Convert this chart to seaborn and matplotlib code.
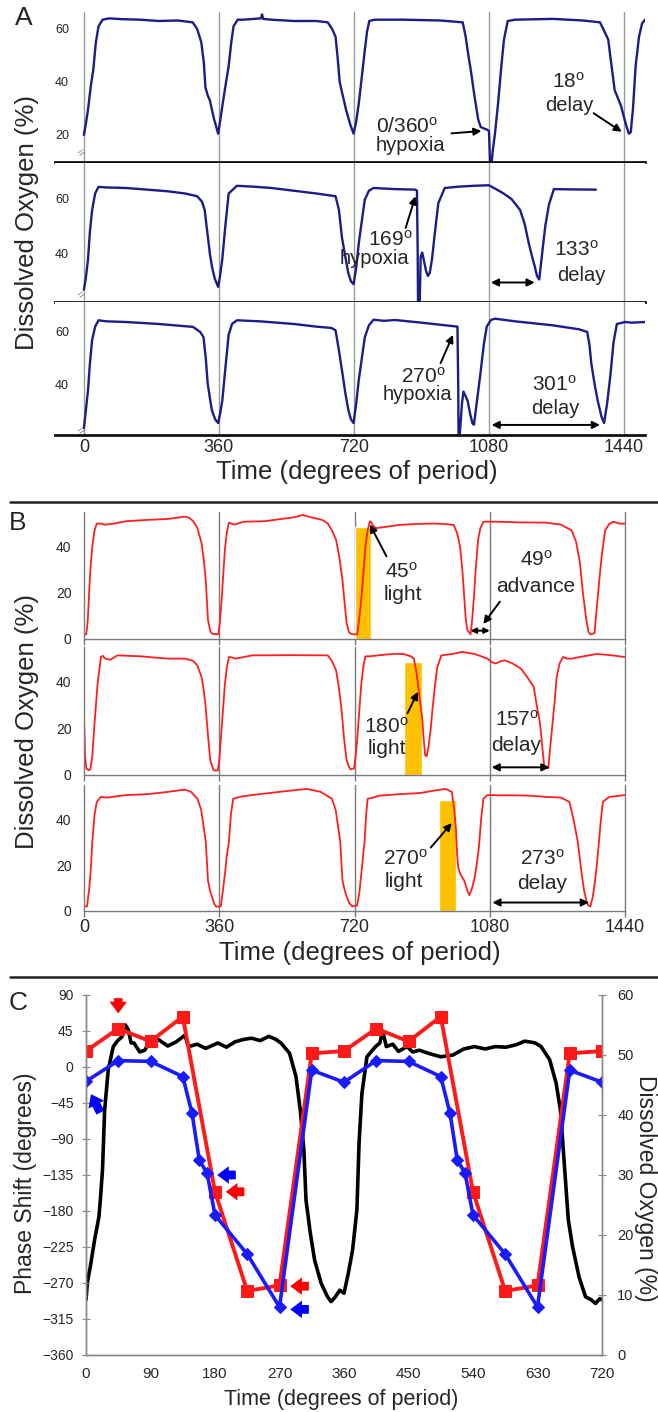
import numpy as np
import pandas as pd
import matplotlib
matplotlib.use('Agg')
import matplotlib.pyplot as plt
import seaborn as sns
from matplotlib.lines import Line2D

# ---------------- data ----------------
cycle_ticks = [0, 360, 720, 1080, 1440]

# panel A: dissolved oxygen (%) vs time (deg), hypoxia pulses
a1 = [(0, 20), (5, 24), (11, 29.5), (18, 38), (25, 44.6), (32, 55), (39, 61), (50, 63.5), (67, 64),
      (100, 63.7), (150, 63.5), (200, 63), (250, 63.2), (290, 62.5), (302, 60), (313, 55), (320, 47),
      (324, 38), (330, 35), (336, 33), (347, 26), (358, 20.5), (363, 25), (369, 30.8), (378, 39),
      (386, 46), (393, 55), (399, 61), (410, 63.5), (425, 63.5), (472, 64), (475, 65.5), (478, 63.8),
      (500, 63.5), (560, 63), (620, 63), (650, 62.5), (662, 60), (671, 57), (676, 50), (682, 40),
      (690, 35), (699, 29.5), (710, 24), (719, 20.5), (726, 25), (733, 32), (741, 42), (749, 52),
      (755, 59), (761, 63), (775, 63.5), (850, 63.5), (950, 63.2), (1010, 62.5), (1018, 57),
      (1023, 52), (1032, 44), (1040, 36), (1051, 26), (1058, 23), (1066, 22.5), (1075, 22),
      (1080, 21.5), (1083, 9), (1087, 9), (1090, 14), (1096, 20.5), (1105, 33), (1113, 46),
      (1120, 56), (1130, 63), (1150, 63.5), (1250, 63.8), (1330, 63.2), (1376, 62.5), (1388, 59),
      (1398, 56), (1405, 48), (1415, 37), (1432, 31), (1445, 24), (1453, 20.5), (1458, 21),
      (1464, 30), (1471, 46), (1480, 57), (1488, 62), (1496, 63.5)]
a2 = [(0, 27), (5, 31), (11, 38), (16, 48), (22, 56), (30, 62), (39, 64.4), (60, 64.2), (112, 64),
      (160, 63.5), (224, 62.8), (270, 62), (302, 61), (315, 59), (322, 56), (329, 48), (336, 40),
      (342, 35), (349, 31), (358, 28), (363, 32), (369, 38), (377, 50), (386, 62), (408, 64.8),
      (450, 64.5), (500, 64), (560, 63), (620, 62), (671, 61), (680, 56), (688, 46), (697, 39),
      (705, 33), (712, 30), (719, 29), (726, 35), (733, 44), (741, 52), (749, 59.8), (760, 63),
      (772, 64), (830, 63.6), (884, 63.4), (888, 63), (890, 40), (891, 20), (895, 20), (898, 39),
      (902, 40.5), (906, 38), (912, 34), (917, 32), (922, 33), (928, 38), (936, 48), (945, 58.5),
      (962, 64), (1000, 64.5), (1040, 64.8), (1080, 65), (1100, 63.5), (1119, 62), (1140, 60),
      (1163, 56), (1175, 51), (1186, 44), (1195, 39), (1202, 35.5), (1208, 32), (1214, 30.7),
      (1220, 38), (1230, 50), (1240, 58), (1253, 63.6), (1300, 63.5), (1365, 63.4)]
a3 = [(0, 23.75), (5, 30), (11, 38), (16, 48), (22, 57), (30, 62), (39, 64.4), (60, 64), (112, 63.75),
      (200, 63), (291, 61.9), (310, 60), (319, 58), (325, 50), (330, 40.6), (336, 35), (341, 30.6),
      (350, 27), (358, 25.6), (363, 29), (369, 34), (377, 46), (386, 59), (395, 63), (408, 64.4),
      (470, 64), (560, 63), (620, 62), (660, 61.5), (671, 60.6), (680, 53), (688, 45.6), (697, 37),
      (705, 30.6), (712, 27), (719, 25.6), (726, 33), (733, 42), (741, 50), (749, 58), (760, 62.5),
      (772, 64.6), (800, 64.2), (830, 64.5), (900, 63.5), (996, 62), (998, 40), (999, 19), (1001, 19),
      (1003, 23), (1008, 33), (1012, 37.5), (1017, 36), (1023, 34), (1030, 29), (1036, 25.5),
      (1040, 25), (1048, 34), (1057, 44), (1066, 55), (1074, 62), (1085, 64.5), (1096, 65),
      (1150, 64), (1250, 62.5), (1320, 61), (1342, 60), (1348, 55), (1353, 48), (1362, 40),
      (1370, 34), (1380, 28), (1387, 25.6), (1395, 33), (1404, 44), (1412, 56), (1421, 63),
      (1443, 63.75), (1460, 63.5), (1496, 63.75)]

# panel B: dissolved oxygen (%) vs time (deg), light pulses
b1 = [(0, 2), (6, 2), (10, 8), (13, 18), (17, 30), (22, 40), (28, 47), (34, 50), (45, 50), (56, 49.5),
      (80, 50), (112, 51), (160, 51.5), (224, 52), (268, 53), (280, 52.5), (291, 51), (302, 48),
      (313, 41.4), (319, 34), (324, 25.6), (330, 8.3), (336, 3.5), (341, 2.3), (358, 2), (362, 8),
      (367, 18.4), (371, 29), (375, 38.6), (380, 46), (386, 50.4), (400, 49.5), (425, 50.8),
      (480, 51), (559, 52.7), (582, 53.7), (610, 52.5), (635, 51.5), (649, 50), (660, 47), (671, 43),
      (680, 35), (688, 25.6), (694, 15), (699, 7), (705, 3), (710, 2.3), (719, 2), (727, 2), (732, 8),
      (738, 17), (744, 29), (749, 40), (755, 47), (761, 51), (765, 50.5), (770, 49), (777, 48),
      (800, 48.5), (839, 49.4), (880, 49.8), (928, 50), (960, 49.8), (984, 49.4), (993, 46),
      (1001, 40), (1007, 30), (1012, 18.4), (1016, 9), (1020, 4), (1029, 2), (1033, 8), (1038, 18.4),
      (1043, 31), (1049, 43), (1055, 48), (1063, 50.8), (1100, 50.8), (1160, 50.5), (1230, 50.4),
      (1270, 49.5), (1298, 47), (1310, 42), (1320, 33), (1328, 20), (1337, 8.3), (1343, 3),
      (1348, 2), (1355, 2.3), (1359, 2.6), (1364, 12), (1370, 22.7), (1378, 36), (1387, 47),
      (1398, 49.8), (1409, 50.8), (1425, 50), (1440, 50)]
b2 = [(0, 25), (3, 8), (6, 3), (12, 2), (17, 2.5), (22, 8), (28, 22), (36, 39), (45, 50.7), (50, 51.2),
      (56, 50), (70, 49.5), (89, 51.4), (150, 51), (224, 50), (270, 50), (291, 49), (302, 47),
      (313, 42), (319, 36), (324, 29), (330, 17), (336, 6.4), (345, 2), (356, 1.9), (360, 6),
      (364, 15), (370, 28), (375, 39), (380, 46), (386, 50.7), (395, 50.5), (403, 50), (420, 50.5),
      (447, 51.4), (550, 51.5), (649, 51.4), (660, 49), (671, 45), (678, 38), (685, 29), (692, 16),
      (699, 6.4), (705, 3.5), (710, 2.4), (719, 2.9), (723, 8), (727, 15), (733, 28), (738, 39),
      (744, 47), (749, 51), (760, 51), (783, 51.4), (820, 52), (850, 52), (870, 51), (878, 50),
      (884, 45), (889, 39), (895, 31), (900, 25), (904, 16), (908, 8.6), (912, 8), (917, 12),
      (923, 20), (928, 29), (934, 38), (940, 46), (951, 51.4), (980, 52), (1007, 52.9), (1040, 52),
      (1074, 50), (1085, 48.5), (1096, 47.9), (1108, 48.8), (1119, 49.3), (1140, 48), (1163, 45.7),
      (1180, 42), (1197, 37.9), (1205, 30), (1214, 22), (1220, 12), (1225, 3.6), (1236, 2.9),
      (1241, 12), (1247, 22), (1253, 32), (1258, 42), (1266, 48), (1275, 50.7), (1286, 50),
      (1298, 50), (1330, 51), (1365, 52), (1400, 51.5), (1440, 50.7)]
b3 = [(0, 2), (8, 2), (14, 10), (18, 18), (22, 30), (28, 42), (34, 47.6), (45, 49.8), (60, 49.5),
      (112, 50.6), (170, 51), (224, 52), (268, 53), (285, 52), (302, 49), (312, 44), (319, 36),
      (324, 30.5), (330, 13.3), (336, 8.5), (341, 6), (347, 3), (352, 1.9), (364, 2), (369, 8),
      (375, 16), (380, 24), (386, 30.5), (391, 42), (397, 49), (420, 50), (447, 50.6), (520, 52),
      (593, 53.3), (630, 52), (660, 49), (670, 44), (677, 36), (682, 30.5), (688, 13.3), (694, 9),
      (699, 6.4), (706, 3.5), (714, 2), (727, 2.4), (733, 8), (738, 16), (744, 26), (747, 30.5),
      (751, 42), (755, 49), (770, 49.5), (783, 50.3), (840, 51), (895, 51.5), (930, 52.5),
      (962, 53.3), (979, 52), (985, 45), (990, 36), (993, 25), (996, 19), (1002, 16), (1012, 13.3),
      (1020, 9), (1026, 6.9), (1033, 10), (1040, 14.7), (1046, 21), (1051, 27.6), (1057, 40),
      (1063, 49), (1074, 50.6), (1110, 50.5), (1150, 50.5), (1190, 50.3), (1230, 49.8), (1270, 49.5),
      (1292, 47.6), (1303, 40), (1314, 30.5), (1325, 16), (1331, 9), (1337, 4.6), (1342, 2.5),
      (1348, 2), (1354, 6), (1359, 11.6), (1365, 20), (1370, 29), (1376, 40), (1381, 47.6),
      (1398, 49.8), (1420, 50.2), (1440, 50.6)]
light_start = [720, 853, 945]
light_width = [45, 47, 45]
light_top = [48.6, 48.6, 48.5]

# panel C: phase response curves + oxygen trace
prc_x_red = [0, 45, 90, 135, 180, 225, 270, 315, 360, 405, 450, 495, 540, 585, 630, 675, 720]
prc_red = [20, 48, 32, 63, -156, -280, -273, 17, 20, 48, 32, 63, -156, -280, -273, 17, 20]
prc_x_blue = [0, 45, 90, 135, 148, 158, 169, 180, 225, 270, 315, 360,
              405, 450, 495, 508, 518, 529, 540, 585, 630, 675, 720]
prc_blue = [-18, 8, 7, -12, -58, -116, -133, -185, -234, -300, -4, -19,
            8, 7, -12, -58, -116, -133, -185, -234, -300, -4, -19]
do_x = [0, 2, 6, 12, 18, 20, 23, 26, 31, 38, 45, 50, 55, 59, 63, 67, 75, 82, 91, 102,
        114, 126, 138, 143, 155, 167, 184, 196, 208, 220, 231, 243, 255, 265, 272, 284, 293, 299, 304, 307,
        313, 319, 328, 337, 342, 348, 354, 360, 366, 372, 378, 381, 385, 392, 404, 410, 414, 419, 428, 436,
        448, 456, 465, 480, 495, 512, 527, 542, 557, 571, 586, 600, 612, 618, 627, 635, 647, 656, 662, 667,
        673, 679, 688, 697, 705, 711, 717, 720]
do_y = [9.2, 12.2, 14.7, 19.2, 23, 25.8, 30.8, 40.8, 47.5, 51.4, 52.5, 53, 55, 54.2, 52, 52, 50.5, 50.8, 52.8, 52.5,
        51.5, 52.2, 53.3, 51.4, 51.8, 51.1, 52, 51.3, 52.2, 52.6, 52.8, 52.4, 53.1, 52.6, 52, 50.3, 46.4, 40.8, 34.2, 25.8,
        20.3, 15.8, 12, 9.7, 8.9, 9.7, 10.8, 10.3, 13.6, 17.5, 24.2, 35.3, 43.6, 49.7, 51.4, 52, 54, 51.4, 51.8, 50.6,
        51.4, 50.5, 50.8, 50.2, 49.7, 50, 51, 51.4, 51, 51.4, 51.3, 51.7, 52.3, 52.2, 52, 51.4, 49.2, 45.3, 40.8, 32.5,
        22.5, 18, 13, 9.7, 9.2, 8.6, 9.4, 9.2]

# ---------------- style ----------------
sns.set_style('white')
plt.rcParams['font.family'] = ['Liberation Sans', 'DejaVu Sans']
plt.rcParams['mathtext.fontset'] = 'custom'
plt.rcParams['mathtext.rm'] = 'Liberation Sans'
plt.rcParams['mathtext.it'] = 'Liberation Sans'

NAVY = '#1c1c8a'
RED = '#ff1f1f'
GRID = '#9a9a9a'
W, H = 658, 1412
fig = plt.figure(figsize=(W / 100, H / 100), dpi=100)


def box(l, t, r, b):
    return [l / W, 1 - b / H, (r - l) / W, (b - t) / H]


def trace(ax, pts, color, lw):
    df = pd.DataFrame(pts, columns=['t', 'o2'])
    sns.lineplot(data=df, x='t', y='o2', ax=ax, color=color, linewidth=lw,
                 estimator=None, sort=False, legend=False)
    ax.set_xlabel('')
    ax.set_ylabel('')


def arrow(ax, xy, xytext, style='-|>', color='black', lw=1.4, ms=11):
    ax.annotate('', xy=xy, xytext=xytext,
                arrowprops=dict(arrowstyle=style, color=color, lw=lw,
                                shrinkA=0, shrinkB=0, mutation_scale=ms))


def deg(n):
    return n + r'$^{\mathrm{o}}$'


# ---------------- panel A ----------------
a_boxes = [(55, 12, 645, 162), (55, 163, 645, 302), (55, 302, 645, 435)]
a_ylims = [(9.8, 66.4), (22.5, 73.1), (21.1, 71.3)]
a_yticks = [[20, 40, 60], [40, 60], [40, 60]]
a_breaks = [13, 25, 22.4]
axA = []
for i, pts in enumerate([a1, a2, a3]):
    ax = fig.add_axes(box(*a_boxes[i]))
    for t in cycle_ticks:
        ax.axvline(t, color=GRID, lw=1, zorder=0)
    trace(ax, pts, NAVY, 1.7)
    ax.set_xlim(-77, 1496)
    ax.set_ylim(*a_ylims[i])
    ax.set_yticks(a_yticks[i])
    ax.tick_params(axis='y', length=0, pad=-10, labelsize=9)
    for s in ['top', 'left', 'right']:
        ax.spines[s].set_visible(False)
    ax.spines['bottom'].set_color('#111111')
    ax.spines['bottom'].set_linewidth(2)
    ax.text(-6, a_breaks[i], '=', rotation=35, color='#888888', fontsize=9,
            ha='center', va='center')
    if i < 2:
        ax.set_xticks([])
    else:
        ax.set_xticks(cycle_ticks)
        ax.tick_params(axis='x', length=0, pad=3, labelsize=13)
    axA.append(ax)

ax = axA[0]
ax.text(861, 23.1, deg('0/360'), fontsize=15, ha='center', va='center')
ax.text(870, 16.2, 'hypoxia', fontsize=14.5, ha='center', va='center')
arrow(ax, (1060, 21.5), (980, 20.6))
ax.text(1292, 40.1, deg('18'), fontsize=15, ha='center', va='center')
ax.text(1294, 31, 'delay', fontsize=14.5, ha='center', va='center')
arrow(ax, (1434, 21.2), (1359, 28.2))

ax = axA[1]
ax.text(817, 45.1, deg('169'), fontsize=15, ha='center', va='center')
ax.text(775, 38.4, 'hypoxia', fontsize=14.5, ha='center', va='center')
arrow(ax, (884, 61), (858, 49.5))
ax.text(1314, 41.5, deg('133'), fontsize=15, ha='center', va='center')
ax.text(1325, 32, 'delay', fontsize=14.5, ha='center', va='center')
arrow(ax, (1202, 29.6), (1085, 29.6), style='<|-|>')

ax = axA[2]
ax.text(906, 43.1, deg('270'), fontsize=15, ha='center', va='center')
ax.text(889, 36.2, 'hypoxia', fontsize=14.5, ha='center', va='center')
arrow(ax, (984, 58.9), (951, 48.2))
ax.text(1253, 40, deg('301'), fontsize=15, ha='center', va='center')
ax.text(1258, 31.2, 'delay', fontsize=14.5, ha='center', va='center')
arrow(ax, (1376, 24.9), (1087, 24.9), style='<|-|>')

# ---------------- panel B ----------------
b_boxes = [(84, 512, 625, 639), (84, 647, 625, 775), (84, 785, 625, 911)]
axB = []
for i, pts in enumerate([b1, b2, b3]):
    ax = fig.add_axes(box(*b_boxes[i]))
    ax.bar(light_start[i], light_top[i], width=light_width[i], align='edge',
           color='#ffc000', zorder=1)
    for t in cycle_ticks[1:-1]:
        ax.axvline(t, color='#7a7a7a', lw=1, zorder=0)
    trace(ax, pts, RED, 1.3)
    ax.set_xlim(0, 1440)
    ax.set_ylim(0, 55)
    ax.set_yticks([0, 20, 40])
    ax.tick_params(axis='y', length=0, pad=9, labelsize=10)
    ax.spines['top'].set_visible(False)
    for s in ['left', 'right', 'bottom']:
        ax.spines[s].set_color('#7a7a7a')
        ax.spines[s].set_linewidth(1)
    ax.set_xticks(cycle_ticks)
    ax.tick_params(axis='x', direction='out', length=4, width=1, color='#7a7a7a',
                   pad=2, labelsize=13, bottom=True)
    if i < 2:
        ax.set_xticklabels([])
    axB.append(ax)

ax = axB[0]
ax.text(845, 29.3, deg('45'), fontsize=15, ha='center', va='center')
ax.text(850, 19.1, 'light', fontsize=15, ha='center', va='center')
arrow(ax, (761, 49.6), (805, 35.8))
ax.text(1203, 34.3, deg('49'), fontsize=15, ha='center', va='center')
ax.text(1203, 22.7, 'advance', fontsize=15, ha='center', va='center')
arrow(ax, (1063, 6.5), (1107, 16.2))
arrow(ax, (1080, 3.6), (1029, 3.6), style='<|-|>', ms=8)

ax = axB[1]
ax.text(805, 20.8, deg('180'), fontsize=15, ha='center', va='center')
ax.text(805, 11.5, 'light', fontsize=15, ha='center', va='center')
arrow(ax, (889, 35.8), (861, 26.5))
ax.text(1152, 23.7, deg('157'), fontsize=15, ha='center', va='center')
ax.text(1150, 12.5, 'delay', fontsize=15, ha='center', va='center')
arrow(ax, (1239, 3.3), (1085, 3.3), style='<|-|>')

ax = axB[2]
ax.text(856, 22.7, deg('270'), fontsize=15, ha='center', va='center')
ax.text(852, 13, 'light', fontsize=15, ha='center', va='center')
arrow(ax, (979, 38.4), (923, 27.7))
ax.text(1219, 22.7, deg('273'), fontsize=15, ha='center', va='center')
ax.text(1219, 11.9, 'delay', fontsize=15, ha='center', va='center')
arrow(ax, (1344, 3.7), (1087, 3.7), style='<|-|>')

# ---------------- panel C ----------------
axC = fig.add_axes(box(86, 995, 602, 1355))
axD = axC.twinx()
sns.lineplot(x=do_x, y=do_y, ax=axD, color='black', linewidth=2.6,
             estimator=None, sort=False)
axD.set_ylim(0, 60)
axD.set_yticks(range(0, 61, 10))
axD.tick_params(axis='y', direction='inout', length=6, color='#888888',
                pad=8, labelsize=10.5)

axC.set_zorder(axD.get_zorder() + 1)
axC.patch.set_visible(False)
sns.lineplot(x=prc_x_red, y=prc_red, ax=axC, color='#ff1a1a', linewidth=2.8,
             marker='s', markersize=8, markeredgecolor='#ff1a1a',
             estimator=None, sort=False)
sns.lineplot(x=prc_x_blue, y=prc_blue, ax=axC, color='#1a1aff', linewidth=2.6,
             marker='D', markersize=6, markeredgecolor='#1a1aff',
             estimator=None, sort=False)
axC.set_xlim(0, 720)
axC.set_ylim(-360, 90)
axC.set_yticks(range(-360, 91, 45))
axC.set_xticks(range(0, 721, 90))
axC.tick_params(axis='y', direction='inout', length=6, color='#888888',
                pad=6, labelsize=10)
axC.tick_params(axis='x', direction='in', length=4, color='#888888',
                pad=9, labelsize=11)
for a in (axC, axD):
    a.spines['top'].set_visible(False)
    for s in ['left', 'right', 'bottom']:
        a.spines[s].set_color('#888888')
        a.spines[s].set_linewidth(1)

blk = 'simple,head_length=0.6,head_width=0.9,tail_width=0.45'
arrow(axC, (45, 67), (45, 86), style=blk, color='#ff0000', lw=0, ms=14)
arrow(axC, (7, -34), (20, -57), style=blk, color='#0000ff', lw=0, ms=14)
arrow(axC, (183, -135), (209, -135), style=blk, color='#0000ff', lw=0, ms=14)
arrow(axC, (195, -156), (221, -156), style=blk, color='#ff0000', lw=0, ms=14)
arrow(axC, (285, -274), (311, -274), style=blk, color='#ff0000', lw=0, ms=14)
arrow(axC, (285, -303), (311, -303), style=blk, color='#0000ff', lw=0, ms=14)

# ---------------- figure-level labels ----------------
for y in (502, 977):
    fig.add_artist(Line2D([10 / W, 1], [1 - y / H, 1 - y / H], color='#222222', lw=1.8,
                          transform=fig.transFigure))

fig.text(24 / W, 1 - 18 / H, 'A', fontsize=19, ha='center', va='center')
fig.text(18 / W, 1 - 523 / H, 'B', fontsize=19, ha='center', va='center')
fig.text(18 / W, 1 - 1003 / H, 'C', fontsize=19, ha='center', va='center')

fig.text(27 / W, 1 - 222 / H, 'Dissolved Oxygen (%)', rotation=90, fontsize=18.5,
         ha='center', va='center')
fig.text(27 / W, 1 - 721 / H, 'Dissolved Oxygen (%)', rotation=90, fontsize=18.5,
         ha='center', va='center')
fig.text(357 / W, 1 - 472 / H, 'Time (degrees of period)', fontsize=18.5,
         ha='center', va='center')
fig.text(360 / W, 1 - 953 / H, 'Time (degrees of period)', fontsize=18.5,
         ha='center', va='center')
fig.text(341 / W, 1 - 1400 / H, 'Time (degrees of period)', fontsize=15.5,
         ha='center', va='center')
fig.text(26 / W, 1 - 1183 / H, 'Phase Shift (degrees)', rotation=90, fontsize=16.5,
         ha='center', va='center')
fig.text(645 / W, 1 - 1188 / H, 'Dissolved Oxygen (%)', rotation=270, fontsize=16.5,
         ha='center', va='center')

fig.savefig('out.png', dpi=100)
